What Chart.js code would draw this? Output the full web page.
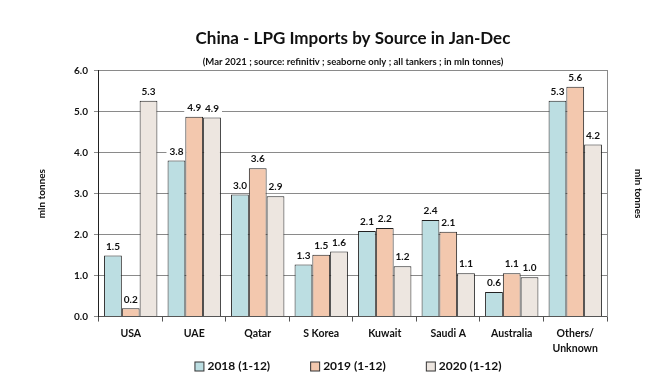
<!DOCTYPE html>
<html>
<head>
<meta charset="utf-8">
<script src="https://cdn.jsdelivr.net/npm/chart.js@4.4.1/dist/chart.umd.min.js"></script>
<style>
  html, body { margin: 0; padding: 0; background: #ffffff; }
  #wrap { width: 670px; height: 380px; }
</style>
</head>
<body>
<div id="wrap"><canvas id="c" width="670" height="380"></canvas></div>
<script>
const categories = ['USA', 'UAE', 'Qatar', 'S Korea', 'Kuwait', 'Saudi A', 'Australia', ['Others/', 'Unknown']];
const seriesNames = ['2018 (1-12)', '2019 (1-12)', '2020 (1-12)'];
const values2018 = [1.49, 3.81, 2.98, 1.27, 2.09, 2.36, 0.60, 5.27];
const values2019 = [0.20, 4.88, 3.62, 1.51, 2.16, 2.07, 1.06, 5.61];
const values2020 = [5.27, 4.86, 2.94, 1.59, 1.23, 1.06, 0.96, 4.20];
const yTicks = [0, 1, 2, 3, 4, 5, 6];

const FONT = 'Lato, "Open Sans", sans-serif';
const colors = ['#BCDEE2', '#F3C8AE', '#EDE6E0'];

const dataLabels = {
  id: 'dataLabels',
  beforeDatasetsDraw(chart) {
    const ctx = chart.ctx;
    ctx.save();
    ctx.font = 'bold 10px ' + FONT;
    chart.data.datasets.forEach((ds, di) => {
      const meta = chart.getDatasetMeta(di);
      meta.data.forEach((bar, i) => {
        const txt = ds.data[i].toFixed(1);
        const w = ctx.measureText(txt).width + 6;
        const y = bar.y - 9;
        ctx.fillStyle = '#ffffff';
        ctx.fillRect(bar.x - w / 2, y - 6, w, 12);
      });
    });
    ctx.restore();
  },
  afterDatasetsDraw(chart) {
    const ctx = chart.ctx;
    ctx.save();
    ctx.font = 'bold 10px ' + FONT;
    ctx.textAlign = 'center';
    ctx.textBaseline = 'middle';
    chart.data.datasets.forEach((ds, di) => {
      const meta = chart.getDatasetMeta(di);
      meta.data.forEach((bar, i) => {
        const txt = ds.data[i].toFixed(1);
        ctx.fillStyle = '#111111';
        ctx.fillText(txt, bar.x, bar.y - 9);
      });
    });
    ctx.restore();
  }
};

const customLegend = {
  id: 'customLegend',
  afterDraw(chart) {
    const ctx = chart.ctx;
    const ca = chart.chartArea;
    ctx.save();
    ctx.font = 'bold 12px ' + FONT;
    ctx.textBaseline = 'middle';
    ctx.textAlign = 'left';
    const box = 9, gapBox = 4, gap = 40;
    const items = chart.data.datasets.map(ds => ({
      text: ds.label, color: ds.backgroundColor,
      w: box + gapBox + ctx.measureText(ds.label).width
    }));
    const total = items.reduce((s, it) => s + it.w, 0) + gap * (items.length - 1);
    let x = (ca.left + ca.right) / 2 - 5 - total / 2;
    const y = 366;
    items.forEach(it => {
      ctx.fillStyle = it.color;
      ctx.fillRect(x + 0.5, y - box / 2 + 0.5, box, box);
      ctx.strokeStyle = '#333333';
      ctx.lineWidth = 1;
      ctx.strokeRect(x + 0.5, y - box / 2 + 0.5, box, box);
      ctx.fillStyle = '#111111';
      ctx.fillText(it.text, x + box + gapBox, y + 0.5);
      x += it.w + gap;
    });
    ctx.restore();
  }
};

new Chart(document.getElementById('c'), {
  type: 'bar',
  data: {
    labels: categories,
    datasets: [
      { label: seriesNames[0], data: values2018, backgroundColor: colors[0] },
      { label: seriesNames[1], data: values2019, backgroundColor: colors[1] },
      { label: seriesNames[2], data: values2020, backgroundColor: colors[2] }
    ]
  },
  options: {
    responsive: false,
    animation: false,
    devicePixelRatio: 1,
    layout: { padding: { left: 36, right: 26, top: 0, bottom: 20 } },
    datasets: {
      bar: {
        borderColor: '#222222',
        borderWidth: 1,
        categoryPercentage: 0.84,
        barPercentage: 1.0
      }
    },
    plugins: {
      legend: { display: false },
      tooltip: { enabled: false },
      title: {
        display: true,
        fullSize: false,
        text: 'China - LPG Imports by Source in Jan-Dec',
        color: '#111111',
        font: { family: FONT, size: 17, weight: 'bold' },
        padding: { top: 28, bottom: 8 }
      },
      subtitle: {
        display: true,
        fullSize: false,
        text: '(Mar 2021 ; source: refinitiv ; seaborne only ; all tankers ; in mln tonnes)',
        color: '#111111',
        font: { family: FONT, size: 9.5, weight: 'bold' },
        padding: { top: 0, bottom: 3 }
      }
    },
    scales: {
      x: {
        grid: { display: true, drawOnChartArea: false, tickLength: 5, color: '#555555' },
        border: { color: '#555555' },
        ticks: {
          color: '#111111',
          padding: 4,
          maxRotation: 0,
          autoSkip: false,
          font: { family: FONT, size: 10.5, weight: 'bold', lineHeight: 1.45 }
        }
      },
      y: {
        min: 0,
        max: 6,
        afterBuildTicks(scale) { scale.ticks = yTicks.map(v => ({ value: v })); },
        grid: { color: '#8a8a8a', tickLength: 5 },
        border: { color: '#222222' },
        ticks: {
          color: '#111111',
          padding: 6,
          font: { family: FONT, size: 10, weight: 'bold' },
          callback: v => Number(v).toFixed(1)
        },
        title: {
          display: true,
          text: 'mln tonnes',
          color: '#111111',
          font: { family: FONT, size: 10, weight: 'bold' },
          padding: { top: 0, bottom: 20 }
        }
      },
      y2: {
        position: 'right',
        min: 0,
        max: 6,
        grid: { drawOnChartArea: false, drawTicks: false },
        border: { display: true, color: '#8a8a8a' },
        ticks: { display: false },
        title: {
          display: true,
          text: 'mln tonnes',
          color: '#111111',
          font: { family: FONT, size: 10, weight: 'bold' },
          padding: { top: 0, bottom: 25 }
        }
      }
    }
  },
  plugins: [dataLabels, customLegend]
});
</script>
</body>
</html>
